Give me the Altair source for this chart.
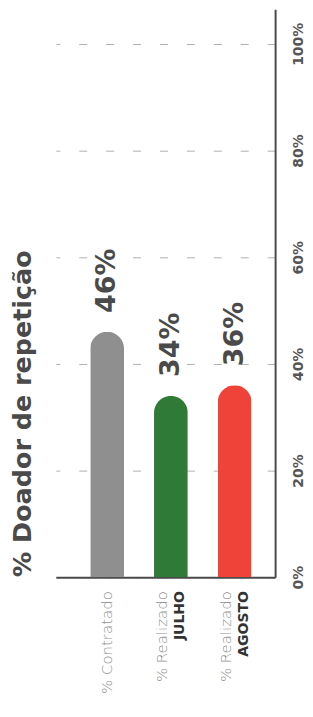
import altair as alt
import pandas as pd

categories = ["% Contratado", "% Realizado JULHO", "% Realizado AGOSTO"]
values = [46, 34, 36]
value_labels = ["46%", "34%", "36%"]
line1 = ["% Contratado", "% Realizado", "% Realizado"]
line2 = ["", "JULHO", "AGOSTO"]
colors = ["#8f8f8f", "#2f7a37", "#ef4238"]
ticks = [0, 20, 40, 60, 80, 100]

df = pd.DataFrame({
    "cat": categories,
    "value": values,
    "label": value_labels,
    "line1": line1,
    "line2": line2,
})

FONT = "DejaVu Sans"

xenc = alt.X(
    "cat:N",
    sort=categories,
    scale=alt.Scale(paddingInner=0.47, paddingOuter=0.454, align=0.594),
    axis=alt.Axis(labels=False, ticks=False, title=None, domainColor="#4a4a4a",
                  domainWidth=2, grid=False),
)
yenc = alt.Y(
    "value:Q",
    scale=alt.Scale(domain=[0, 106.5], nice=False),
    axis=alt.Axis(orient="right", values=ticks, labelExpr="datum.value + '%'",
                  labelAngle=270, labelAlign="center", labelBaseline="top",
                  labelPadding=16, labelFont=FONT, labelFontSize=14,
                  labelFontWeight="bold", labelColor="#555555", ticks=False,
                  domainColor="#4a4a4a", domainWidth=2, grid=True,
                  gridDash=[8, 19], gridColor="#b0b0b0", gridWidth=1, title=None),
)

base = alt.Chart(df).encode(x=xenc)

bars = base.mark_bar(cornerRadiusEnd=17, y2Offset=-11).encode(
    y=yenc,
    color=alt.Color("cat:N", scale=alt.Scale(domain=categories, range=colors), legend=None),
)

vals = base.mark_text(angle=270, align="left", baseline="middle", dx=19,
                      fontSize=27, fontWeight="bold", font=FONT, color="#4a4a4a").encode(
    y="value:Q", text="label:N")

lab_single = base.mark_text(angle=270, align="right", baseline="middle", dy=0,
                            fontSize=15, fontWeight=200, font=FONT, color="#8f8f8f").encode(
    y=alt.value(584), text="line1:N").transform_filter("datum.line2 == ''")

lab_l1 = base.mark_text(angle=270, align="right", baseline="middle", dy=-9,
                        fontSize=15, fontWeight=200, font=FONT, color="#8f8f8f").encode(
    y=alt.value(584), text="line1:N").transform_filter("datum.line2 != ''")

lab_l2 = base.mark_text(angle=270, align="right", baseline="middle", dy=9,
                        fontSize=14, fontWeight="bold", font=FONT, color="#333333").encode(
    y=alt.value(584), text="line2:N").transform_filter("datum.line2 != ''")

chart = alt.layer(bars, vals, lab_single, lab_l1, lab_l2).properties(
    width=220,
    height=570,
    padding={"left": 3, "top": 0, "right": 0, "bottom": 2},
    title=alt.TitleParams("% Doador de repetição", orient="left", anchor="start",
                          frame="group", fontSize=25.5, font=FONT, fontWeight="bold",
                          color="#4a4a4a", offset=19),
).configure_view(stroke=None)

chart.save("out.html", embed_options={"renderer": "svg", "actions": False})
